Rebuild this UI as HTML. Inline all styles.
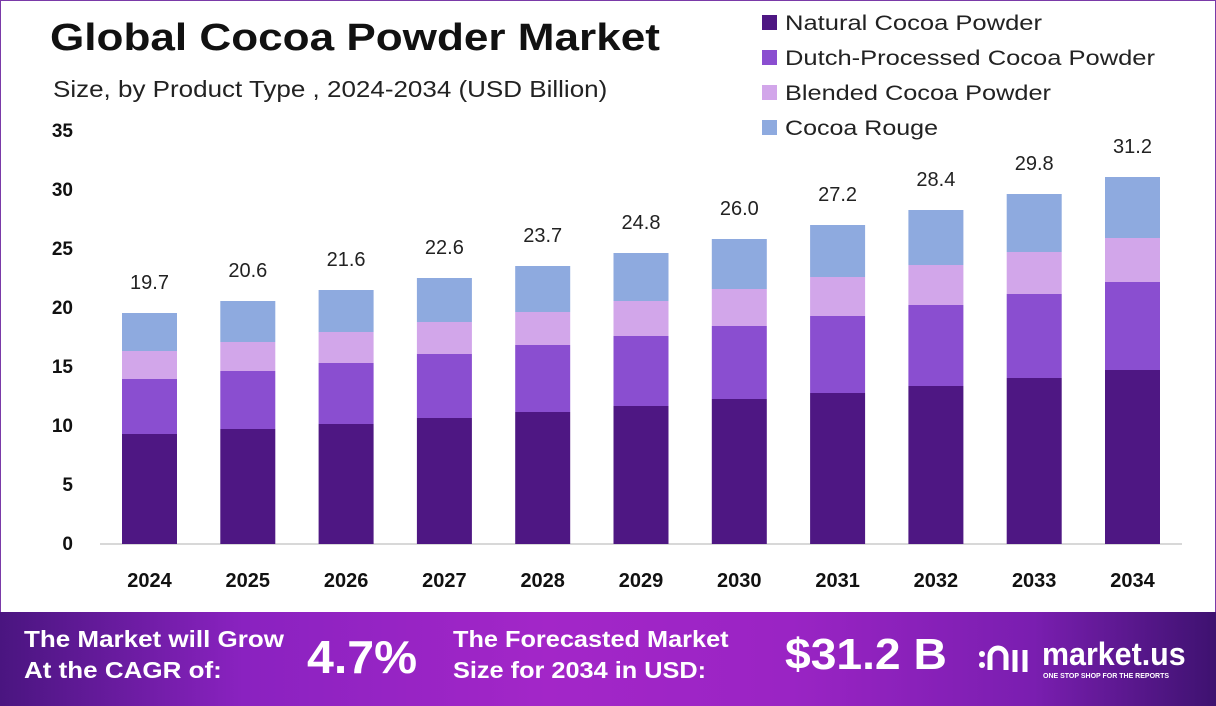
<!DOCTYPE html>
<html><head><meta charset="utf-8"><style>
body{margin:0;width:1216px;height:706px;overflow:hidden;background:#fff;font-family:"Liberation Sans",sans-serif;position:relative}
.t{position:absolute;white-space:nowrap;transform-origin:0 0}
.foot{position:absolute;left:0;top:612px;width:1216px;height:94px;background:linear-gradient(90deg,#4a1580 0%,#8a22c0 20%,#a326c8 45%,#9a24c4 65%,#7a1eb0 85%,#3e1270 100%)}
.fw{position:absolute;color:#fff;font-weight:bold;white-space:nowrap;transform-origin:0 0}
</style></head><body>
<div style="position:absolute;left:0;top:0;width:1214px;height:612px;border:1px solid #7a3aa8;border-bottom:none"></div>
<div class="t" style="left:50px;top:17px;font-size:38px;font-weight:bold;color:#111;transform:scaleX(1.16)">Global Cocoa Powder Market</div>
<div class="t" style="left:53px;top:76px;font-size:23px;color:#222;transform:scaleX(1.13)">Size, by Product Type , 2024-2034 (USD Billion)</div>
<svg width="1216" height="612" style="position:absolute;left:0;top:0">
<g font-family="Liberation Sans" font-size="19" font-weight="bold" fill="#111" text-anchor="end">
<text x="73" y="550">0</text><text x="73" y="491">5</text><text x="73" y="432">10</text><text x="73" y="373">15</text><text x="73" y="314">20</text><text x="73" y="255">25</text><text x="73" y="196">30</text><text x="73" y="137">35</text>
</g>
<line x1="100" y1="544" x2="1182" y2="544" stroke="#ccc" stroke-width="1.5"/>
<g id="bars"></g>
<g font-family="Liberation Sans" font-size="20" font-weight="bold" fill="#111" text-anchor="middle" id="xl"></g>
<g font-family="Liberation Sans" font-size="20" fill="#222" text-anchor="middle" id="vl"></g>
<g font-family="Liberation Sans" font-size="21" fill="#222">
<rect x="762" y="15" width="15" height="15" fill="#4e1783"/><text x="785" y="30" textLength="257" lengthAdjust="spacingAndGlyphs">Natural Cocoa Powder</text>
<rect x="762" y="50" width="15" height="15" fill="#8a4ed0"/><text x="785" y="65" textLength="370" lengthAdjust="spacingAndGlyphs">Dutch-Processed Cocoa Powder</text>
<rect x="762" y="85" width="15" height="15" fill="#d2a6ea"/><text x="785" y="100" textLength="266" lengthAdjust="spacingAndGlyphs">Blended Cocoa Powder</text>
<rect x="762" y="120" width="15" height="15" fill="#8eaadf"/><text x="785" y="135" textLength="153" lengthAdjust="spacingAndGlyphs">Cocoa Rouge</text>
</g>
</svg>
<script>
var d=[[313,351,379,434],[301,342,371,429],[290,332,363,424],[278,322,354,418],[266,312,345,412],[253,301,336,406],[239,289,326,399],[225,277,316,393],[210,265,305,386],[194,252,294,378],[177,238,282,370]];
var v=["19.7","20.6","21.6","22.6","23.7","24.8","26.0","27.2","28.4","29.8","31.2"];
var c=["#8eaadf","#d2a6ea","#8a4ed0","#4e1783"],s="";
var xl="",vl="";
for(var i=0;i<11;i++){var x=122+i*98.3,b=d[i].concat([544]);
for(var k=0;k<4;k++)s+='<rect x="'+x+'" y="'+b[k]+'" width="55" height="'+(b[k+1]-b[k])+'" fill="'+c[k]+'"/>';
xl+='<text x="'+(x+27.5)+'" y="587">'+(2024+i)+'</text>';
vl+='<text x="'+(x+27.5)+'" y="'+(b[0]-24)+'">'+v[i]+'</text>';}
document.getElementById("bars").innerHTML=s;document.getElementById("xl").innerHTML=xl;document.getElementById("vl").innerHTML=vl;
</script>
<div class="foot">
<div class="fw" style="left:24px;top:12px;font-size:23px;line-height:31px;transform:scaleX(1.13)">The Market will Grow<br>At the CAGR of:</div>
<div class="fw" style="left:307px;top:18px;font-size:46px;transform:scaleX(1.05)">4.7%</div>
<div class="fw" style="left:453px;top:12px;font-size:23px;line-height:31px;transform:scaleX(1.1)">The Forecasted Market<br>Size for 2034 in USD:</div>
<div class="fw" style="left:785px;top:18px;font-size:44px;transform:scaleX(1.05)">$31.2 B</div>
<svg style="position:absolute;left:978px;top:28px" width="56" height="40">
<circle cx="4" cy="14" r="3" fill="#fff"/><circle cx="4" cy="25" r="3" fill="#fff"/>
<path d="M12 30 V16 a8 8 0 0 1 16 0 V30" stroke="#fff" stroke-width="5" fill="none"/>
<line x1="37" y1="10" x2="37" y2="32" stroke="#fff" stroke-width="5"/><line x1="47" y1="10" x2="47" y2="32" stroke="#fff" stroke-width="5"/>
</svg>
<div class="fw" style="left:1042px;top:24px;font-size:32px;transform:scaleX(0.95)">market.us</div>
<div class="fw" style="left:1043px;top:61px;font-size:7px">ONE STOP SHOP FOR THE REPORTS</div>
</div>
</body></html>
